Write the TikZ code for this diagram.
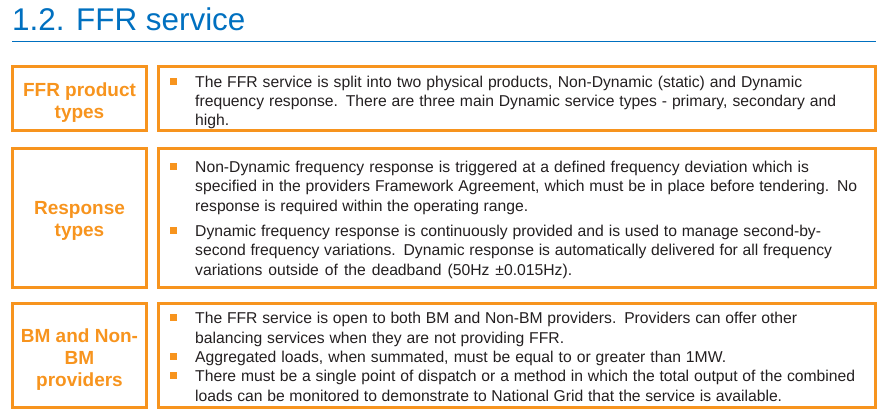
\documentclass[tikz,border=0pt]{standalone}
\usepackage{fontspec}
\setmainfont{Liberation Sans}
\usetikzlibrary{positioning}

\definecolor{ffrorange}{RGB}{247,148,30}
\definecolor{ffrblue}{RGB}{0,112,192}
\definecolor{ffrtext}{RGB}{35,31,32}

\newcommand{\itemfont}{\fontsize{15.7}{19.3}\selectfont}
% one printed line, spread to the width it has in the slide
\newcommand{\fitline}[2]{\leavevmode\hbox to #1pt{\spaceskip=4.2pt plus 1fil minus 1.2pt\relax #2}}

\tikzset{
  labbox/.style={draw=ffrorange, line width=3pt, inner sep=0pt},
  labtext/.style={align=center, inner sep=0pt, text=ffrorange,
    font=\fontsize{19}{22}\selectfont\bfseries},
  txtbox/.style={draw=ffrorange, line width=3pt, inner sep=0pt},
  item/.style={anchor=base west, inner sep=0pt, text width=690pt, align=left,
    text=ffrtext, font=\itemfont},
  bulletsq/.style={fill=ffrorange, minimum size=7pt, inner sep=0pt}
}

\begin{document}
\begin{tikzpicture}[x=1pt,y=1pt,yscale=-1]
\useasboundingbox (0,0) rectangle (887,419);

% Title
\node[anchor=base west, inner sep=0pt, text=ffrblue, font=\fontsize{31.4}{36}\selectfont] (title) at (12,30.5) {1.2. FFR service};
%Straight Lines
\draw[ffrblue, line width=1.8pt] (12,41.5) -- (876,41.5);

%Shape: Rectangle (row 1)
\node[labbox, minimum width=134pt, minimum height=64pt] (lab1) at (79.5,98.5) {};
\node[txtbox, minimum width=717pt, minimum height=64pt] (box1) at (517,98.5) {};
%Shape: Rectangle (row 2)
\node[labbox, minimum width=134pt, minimum height=139pt] (lab2) at (79.5,218) {};
\node[txtbox, minimum width=717pt, minimum height=139pt] (box2) at (517,218) {};
%Shape: Rectangle (row 3)
\node[labbox, minimum width=134pt, minimum height=104pt] (lab3) at (79.5,355.5) {};
\node[txtbox, minimum width=717pt, minimum height=104pt] (box3) at (517,355.5) {};

% Labels (yshift is downwards here)
\node[labtext] (labtext1) at ([yshift=4.5pt]lab1.center) {FFR product\\types};
\node[labtext] (labtext2) at ([yshift=3pt]lab2.center) {Response\\types};
\node[labtext] (labtext3) at ([yshift=4pt]lab3.center) {BM and Non-\\BM\\providers};

% Text Node
\node[item] (item1a) at (195,87.3) {\fitline{607}{The FFR service is split into two physical products, Non-Dynamic (static) and Dynamic}\\
\fitline{641}{frequency response. There are three main Dynamic service types - primary, secondary and}\\
high.};
% Text Node
\node[item] (item2a) at (195,172.7) {\fitline{614}{Non-Dynamic frequency response is triggered at a defined frequency deviation which is}\\
\fitline{662}{specified in the providers Framework Agreement, which must be in place before tendering. No}\\
\fitline{333}{response is required within the operating range.}};
% Text Node
\node[item] (item2b) at (195,236.7) {\fitline{626}{Dynamic frequency response is continuously provided and is used to manage second-by-}\\
\fitline{637}{second frequency variations. Dynamic response is automatically delivered for all frequency}\\
\fitline{377}{variations outside of the deadband (50Hz ±0.015Hz).}};
% Text Node
\node[item] (item3a) at (195,324) {\fitline{602}{The FFR service is open to both BM and Non-BM providers. Providers can offer other}\\
\fitline{369}{balancing services when they are not providing FFR.}};
% Text Node
\node[item] (item3b) at (195,362.7) {\fitline{531}{Aggregated loads, when summated, must be equal to or greater than 1MW.}};
% Text Node
\node[item] (item3c) at (195,381.9) {\fitline{660}{There must be a single point of dispatch or a method in which the total output of the combined}\\
\fitline{587}{loads can be monitored to demonstrate to National Grid that the service is available.}};

% Bullets
\foreach \n in {item1a,item2a,item2b,item3a,item3b,item3c}
  \node[bulletsq] (bul-\n) at ([xshift=-21.5pt,yshift=-6pt]\n.base west) {};

\end{tikzpicture}
\end{document}
